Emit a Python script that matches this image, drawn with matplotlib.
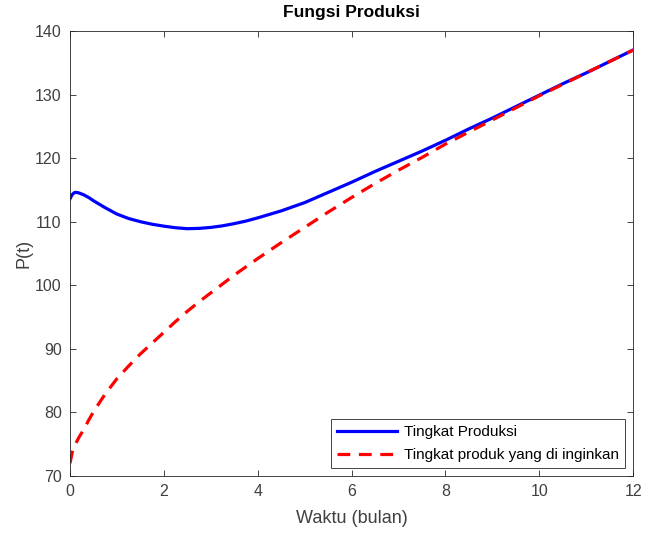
import matplotlib
matplotlib.use("Agg")
import matplotlib.pyplot as plt

t = [0, 0.05, 0.1, 0.15, 0.2, 0.3, 0.4, 0.5, 0.75, 1, 1.25, 1.5, 1.75, 2, 2.25,
     2.5, 2.75, 3, 3.25, 3.5, 3.75, 4, 4.5, 5, 5.5,
     6, 6.5, 7, 7.5, 8, 8.5, 9, 9.5, 10, 10.5, 11, 11.5, 12]
produksi = [113.6, 114.3, 114.6, 114.6, 114.5, 114.2, 113.8, 113.3, 112.2, 111.2,
            110.5, 110.0, 109.6, 109.3, 109.05, 108.9, 108.95, 109.1, 109.35, 109.7,
            110.1, 110.6, 111.7, 113.0, 114.6,
            116.2, 117.9, 119.5, 121.1, 122.8, 124.6, 126.3, 128.1, 129.9, 131.7,
            133.4, 135.2, 137.0]
diinginkan = [72.0, 73.8, 74.8, 75.5, 76.2, 77.4, 78.8, 80.1, 82.9, 85.3,
              87.3, 89.2, 90.9, 92.6, 94.3, 95.9, 97.4, 98.8, 100.2, 101.6,
              102.9, 104.2, 106.7, 109.1, 111.5,
              113.8, 116.0, 118.1, 120.1, 122.2, 124.1, 126.0, 127.9, 129.8, 131.6,
              133.4, 135.2, 137.0]
xticks = [0, 2, 4, 6, 8, 10, 12]
yticks = [70, 80, 90, 100, 110, 120, 130, 140]

plt.rcParams['font.family'] = ['Liberation Sans', 'DejaVu Sans']
axc = '#262626'
txc = '#404040'

fig = plt.figure(figsize=(6.48, 5.34), dpi=100)
ax = fig.add_axes([0.108, 0.1086, 0.869, 0.8334])
ax.plot(t, produksi, color='#0000ff', lw=2.3, label='Tingkat Produksi')
ax.plot(t, diinginkan, color='#ff0000', lw=2.3, dashes=(4, 2.7),
        label='Tingkat produk yang di inginkan')
ax.set_xlim(0, 12)
ax.set_ylim(70, 140)
ax.set_xticks(xticks)
ax.set_yticks(yticks)
ax.tick_params(direction='in', top=True, right=True, labelsize=11.5,
               colors=axc, labelcolor=txc, length=4, width=0.6, pad=6)
for s in ax.spines.values():
    s.set_color(axc)
    s.set_linewidth(0.6)
ax.set_xlabel('Waktu (bulan)', fontsize=13, color=txc, labelpad=8)
ax.set_ylabel('P(t)', fontsize=13, color=txc, labelpad=2)
ax.set_title('Fungsi Produksi', fontsize=12.5, fontweight='bold', color='black', pad=10)
leg = ax.legend(loc='lower right', fontsize=11, handlelength=3.9, fancybox=False,
                edgecolor=axc, framealpha=1, borderaxespad=0.5, labelspacing=0.6,
                borderpad=0.4, handletextpad=0.5)
leg.get_frame().set_linewidth(0.6)
fig.savefig('out.png', dpi=100)
